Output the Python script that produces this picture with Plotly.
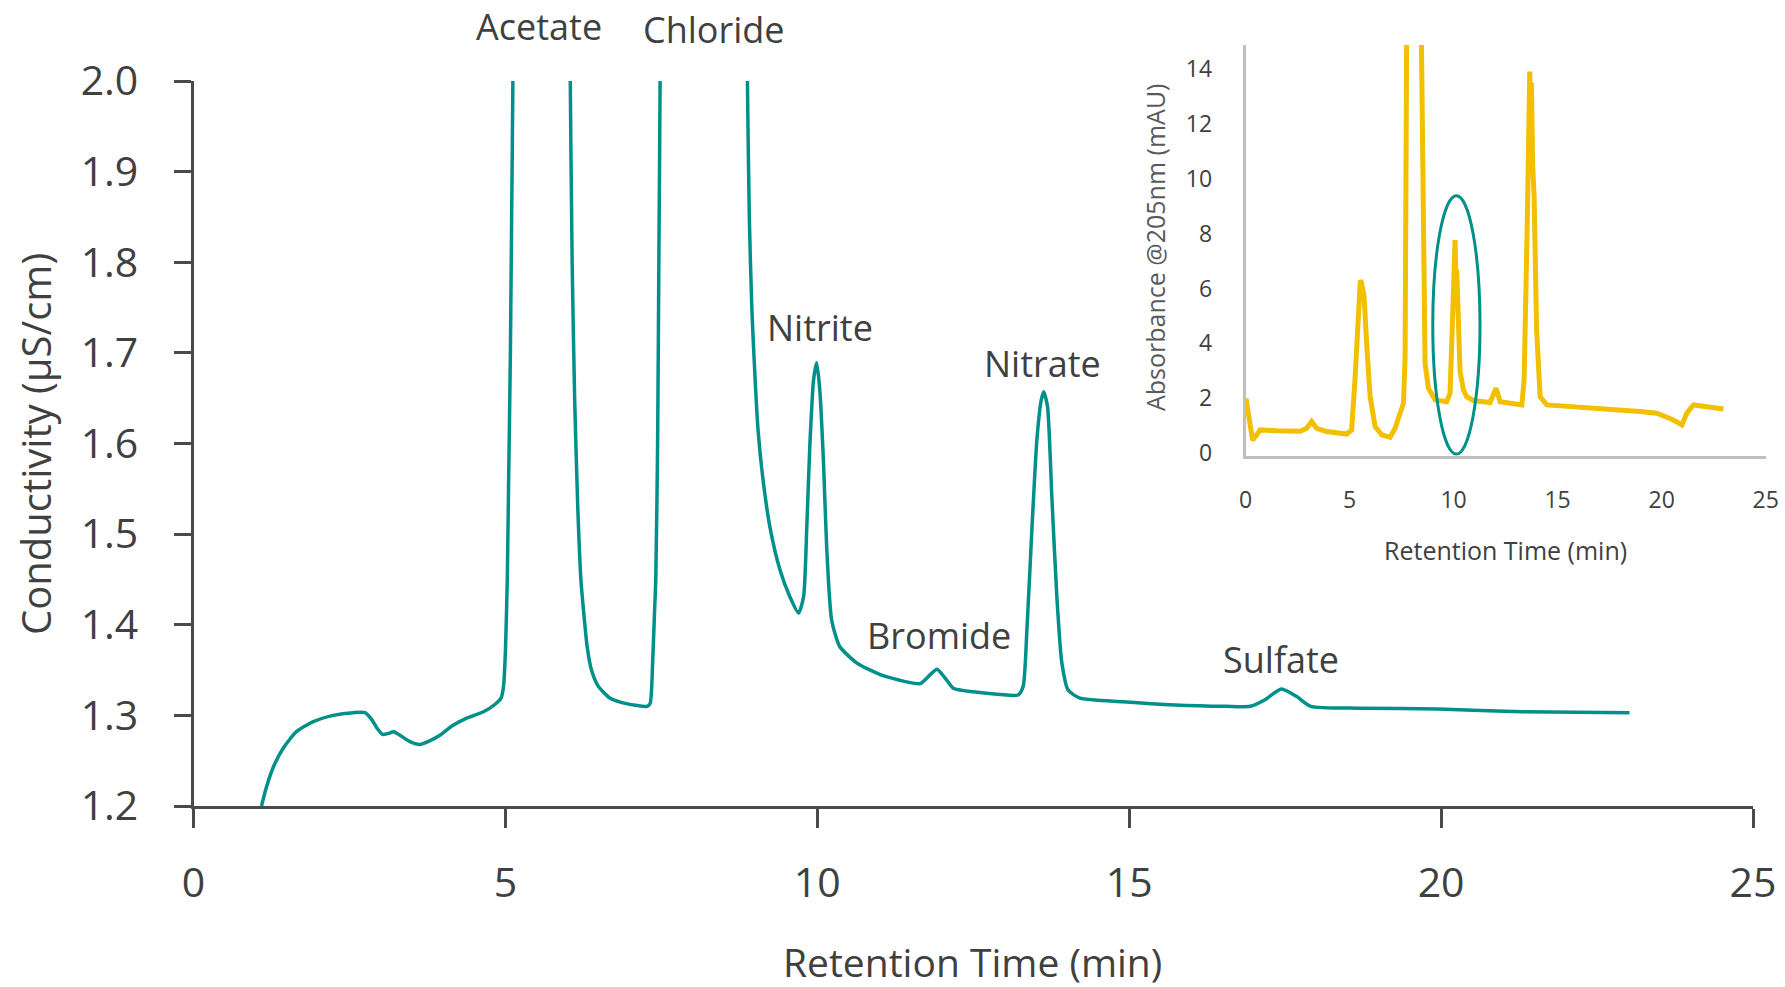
import plotly.graph_objects as go

# ---- conductivity trace (main chromatogram) ----
cond_time = [1.09, 1.17, 1.28, 1.44, 1.65, 1.92, 2.24, 2.56, 2.75, 2.86, 2.94, 3.03, 3.12, 3.21,
             3.31, 3.47, 3.63, 3.76, 3.95, 4.16, 4.38, 4.65, 4.83, 4.93, 4.97, 5.00, 5.03, 5.05,
             5.08, 5.10, 5.12, 5.15, 6.00, 6.04, 6.07, 6.11, 6.16, 6.21, 6.26, 6.31, 6.38, 6.49,
             6.68, 6.94, 7.27, 7.32, 7.36, 7.39, 7.41, 7.44, 7.46, 7.48, 7.50, 8.85, 8.88, 8.91,
             8.95, 9.00, 9.05, 9.13, 9.24, 9.40, 9.56, 9.70, 9.78, 9.83, 9.88, 9.94, 9.99, 10.04,
             10.10, 10.15, 10.23, 10.36, 10.63, 11.01, 11.43, 11.65, 11.81, 11.92, 12.05, 12.18,
             12.50, 12.93, 13.22, 13.30, 13.36, 13.44, 13.52, 13.59, 13.63, 13.69, 13.76, 13.84,
             13.92, 14.02, 14.21, 14.90, 15.73, 16.56, 16.94, 17.17, 17.44, 17.68, 17.91, 18.70,
             19.95, 21.29, 23.02]
cond_value = [1.200, 1.221, 1.243, 1.264, 1.282, 1.293, 1.300, 1.303, 1.303, 1.295, 1.286, 1.279,
              1.280, 1.282, 1.278, 1.271, 1.268, 1.271, 1.278, 1.289, 1.297, 1.304, 1.312, 1.319,
              1.332, 1.370, 1.450, 1.550, 1.700, 1.850, 2.000, 2.400, 2.400, 2.000, 1.800, 1.650,
              1.530, 1.450, 1.410, 1.376, 1.350, 1.332, 1.319, 1.313, 1.310, 1.313, 1.358, 1.413,
              1.449, 1.600, 1.800, 2.000, 2.400, 2.400, 2.000, 1.850, 1.750, 1.675, 1.615, 1.560,
              1.508, 1.461, 1.431, 1.413, 1.431, 1.505, 1.597, 1.670, 1.689, 1.659, 1.578, 1.486,
              1.405, 1.376, 1.358, 1.345, 1.337, 1.335, 1.345, 1.351, 1.341, 1.330, 1.326, 1.323,
              1.3225, 1.332, 1.394, 1.505, 1.604, 1.648, 1.657, 1.641, 1.541, 1.431, 1.358, 1.328,
              1.319, 1.315, 1.3115, 1.310, 1.310, 1.317, 1.329, 1.321, 1.310, 1.308, 1.307, 1.304,
              1.303]

# ---- UV absorbance trace (inset) ----
uv_time = [0.02, 0.18, 0.34, 0.54, 0.70, 1.50, 2.62, 2.94, 3.18, 3.42, 3.90, 4.86, 5.10, 5.26,
           5.42, 5.52, 5.58, 5.70, 5.83, 5.99, 6.23, 6.55, 6.95, 7.19, 7.43, 7.59, 7.67, 7.72,
           7.75, 8.44, 8.47, 8.55, 8.63, 8.79, 9.11, 9.67, 9.83, 9.96, 10.02, 10.07, 10.12,
           10.15, 10.22, 10.31, 10.47, 10.63, 10.95, 11.75, 12.04, 12.24, 13.28, 13.39, 13.55,
           13.66, 13.70, 13.74, 13.80, 13.87, 13.99, 14.16, 14.48, 15.76, 17.36, 18.97, 19.77,
           20.57, 20.97, 21.21, 21.53, 22.17, 22.97]
uv_abs = [2.00, 1.21, 0.48, 0.67, 0.85, 0.82, 0.80, 0.91, 1.16, 0.91, 0.79, 0.70, 0.85, 2.67,
          5.10, 6.30, 6.20, 5.70, 3.88, 2.06, 0.97, 0.67, 0.58, 0.91, 1.46, 1.82, 3.52, 8.13,
          16.0, 16.0, 13.23, 5.70, 3.28, 2.37, 1.94, 1.88, 2.18, 5.10, 7.04, 7.77, 6.00,
          6.68, 5.10, 3.00, 2.31, 2.06, 1.92, 1.85, 2.37, 1.88, 1.76, 2.67, 8.74,
          13.90, 11.50, 13.50, 10.50, 9.35, 4.49, 2.06, 1.76, 1.70, 1.58, 1.52, 1.46,
          1.21, 1.03, 1.46, 1.76, 1.70, 1.61]

# ---- axis ticks ----
main_x_ticks = [0, 5, 10, 15, 20, 25]
main_y_ticks = [1.2, 1.3, 1.4, 1.5, 1.6, 1.7, 1.8, 1.9, 2.0]
inset_x_ticks = [0, 5, 10, 15, 20, 25]
inset_y_ticks = [0, 2, 4, 6, 8, 10, 12, 14]

# ---- peak names and their retention times ----
peak_names = ["Acetate", "Chloride", "Nitrite", "Bromide", "Nitrate", "Sulfate"]
peak_label_time = [5.54, 8.35, 10.04, 11.95, 13.61, 17.43]

# highlighted nitrite window in the UV inset (time min/max, absorbance min/max)
highlight_time = [9.0, 11.27]
highlight_abs = [-0.03, 9.38]

W, H = 1785, 987
TEAL = "#00908a"
GOLD = "#f2c000"
AXIS = "#4a4a4a"
TEXT = "#404040"
FONT = "Open Sans"


def fx(px):
    return px / W


def fy(py):
    return 1 - py / H


fig = go.Figure()

fig.add_trace(go.Scatter(
    x=cond_time, y=cond_value, mode="lines",
    line=dict(color=TEAL, width=3.5, shape="spline", smoothing=0.6),
    xaxis="x", yaxis="y", showlegend=False, hoverinfo="skip"))

fig.add_trace(go.Scatter(
    x=uv_time, y=uv_abs, mode="lines",
    line=dict(color=GOLD, width=5),
    xaxis="x2", yaxis="y2", showlegend=False, hoverinfo="skip"))

fig.update_layout(
    template="none",
    width=W, height=H,
    margin=dict(l=0, r=0, t=0, b=0, pad=0),
    paper_bgcolor="white", plot_bgcolor="rgba(0,0,0,0)",
    font=dict(family=FONT, color=TEXT),
    xaxis=dict(domain=[fx(193.5), fx(1753)], range=[0, 25], tickvals=main_x_ticks,
               showline=True, linecolor=AXIS, linewidth=3,
               ticks="outside", ticklen=19, tickwidth=3, tickcolor=AXIS,
               tickfont=dict(size=41, color=TEXT, family=FONT), ticklabelstandoff=20,
               showgrid=False, zeroline=False, anchor="y", automargin=False,
               fixedrange=True),
    yaxis=dict(domain=[fy(806), fy(81)], range=[1.2, 2.0], tickvals=main_y_ticks,
               tickformat=".1f",
               showline=True, linecolor=AXIS, linewidth=3,
               ticks="outside", ticklen=17, tickwidth=3, tickcolor=AXIS,
               tickfont=dict(size=41, color=TEXT, family=FONT), ticklabelstandoff=27,
               showgrid=False, zeroline=False, anchor="x", automargin=False,
               fixedrange=True),
    xaxis2=dict(domain=[fx(1245.5), fx(1765.7)], range=[0, 25], tickvals=inset_x_ticks,
                showline=True, linecolor="#bfbfbf", linewidth=2.5, ticks="",
                tickfont=dict(size=23, color=TEXT, family=FONT), ticklabelstandoff=22,
                showgrid=False, zeroline=False, anchor="y2", automargin=False,
                fixedrange=True),
    yaxis2=dict(domain=[fy(456), fy(45)], range=[-0.1, 14.87], tickvals=inset_y_ticks,
                showline=True, linecolor="#bfbfbf", linewidth=2.5, ticks="",
                tickfont=dict(size=23, color=TEXT, family=FONT), ticklabelstandoff=26,
                showgrid=False, zeroline=False, anchor="x2", automargin=False,
                fixedrange=True),
)

# highlight ellipse around the nitrite UV peak
fig.add_shape(type="circle", xref="x2", yref="y2",
              x0=highlight_time[0], x1=highlight_time[1],
              y0=highlight_abs[0], y1=highlight_abs[1],
              line=dict(color=TEAL, width=3))

# peak names
label_rows = [27, 30, 327, 635, 363, 659]
for name, t, row in zip(peak_names, peak_label_time, label_rows):
    fig.add_annotation(x=t, y=fy(row), xref="x", yref="paper", text=name,
                       showarrow=False, xanchor="center", yanchor="middle",
                       font=dict(size=36, color=TEXT, family=FONT))

# axis titles
titles = [
    ("Conductivity (µS/cm)", 36, 444, -90, 40, TEXT),
    ("Retention Time (min)", 973, 961, 0, 39, TEXT),
    ("Absorbance @205nm (mAU)", 1155, 247, -90, 25, "#595959"),
    ("Retention Time (min)", 1505, 550, 0, 25, TEXT),
]
for text, px, py, angle, size, color in titles:
    fig.add_annotation(x=fx(px), y=fy(py), xref="paper", yref="paper",
                       xanchor="center", yanchor="middle",
                       text=text, textangle=angle, showarrow=False,
                       font=dict(size=size, color=color, family=FONT))

fig.write_html("out.html", config={"displayModeBar": False})
